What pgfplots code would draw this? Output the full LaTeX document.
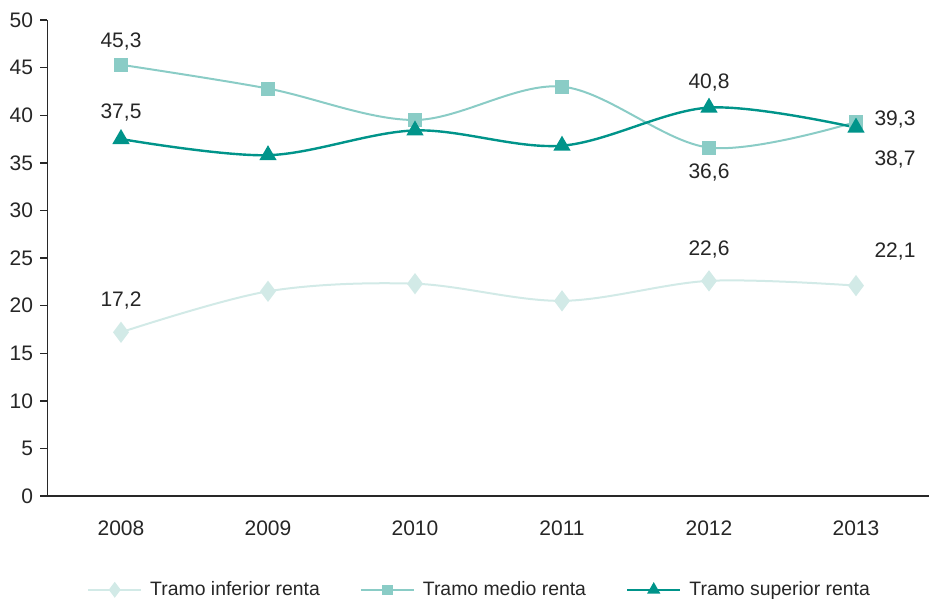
\documentclass[border=0pt]{standalone}
\usepackage{fontspec}
\setmainfont{Liberation Sans}
\usepackage{pgfplots}
\pgfplotsset{compat=1.18}
\definecolor{cinf}{RGB}{210,234,231}
\definecolor{cmed}{RGB}{138,204,198}
\definecolor{csup}{RGB}{0,148,138}
\definecolor{axcol}{RGB}{40,40,40}
\begin{document}
\fontsize{10.5}{12.6}\selectfont
\begin{tikzpicture}
\useasboundingbox (0,0) rectangle (465pt,301pt);
\begin{axis}[
  at={(23.75pt,53pt)}, anchor=south west,
  width=441pt, height=238pt, scale only axis,
  xmin=-0.5, xmax=5.5, ymin=0, ymax=50,
  axis x line=bottom, axis y line=left,
  axis line style={-, axcol, line width=0.7pt},
  xtick={0,...,5},
  xticklabels={2008,2009,2010,2011,2012,2013},
  minor xtick={0.5,1.5,2.5,3.5,4.5},
  ytick={0,5,...,50},
  tick align=outside,
  major tick length=3.5pt,
  minor tick length=3pt,
  xtick style={draw=none},
  minor tick style={axcol, line width=0.7pt, draw=axcol},
  ytick style={axcol, line width=0.7pt},
  tick label style={font=\fontsize{10.5}{12.6}\selectfont, text=black!85},
  xticklabel style={yshift=-5pt},
  /pgf/number format/assume math mode=true,
  legend style={at={(0.491,-0.197)}, anchor=center, draw=none, fill=none,
    font=\fontsize{9.7}{11.6}\selectfont, text=black!85,
    /tikz/every even column/.append style={column sep=18pt}},
  legend columns=3,
  legend cell align=left,
  legend image code/.code={
    \draw[mark repeat=2,mark phase=2, every mark/.append style={scale=0.7}] plot coordinates {(0pt,0pt) (13.25pt,0pt) (26.5pt,0pt)};
    \path (28.5pt,0pt);
  },
  clip=false,
]
\addplot[cinf, line width=1pt, smooth, tension=0.55, mark=diamond*, mark size=4.5pt, mark options={fill=cinf, draw=cinf}]
  coordinates {(0,17.2) (1,21.5) (2,22.3) (3,20.5) (4,22.6) (5,22.1)};
\addlegendentry{Tramo inferior renta}
\addplot[cmed, line width=1pt, smooth, tension=0.55, mark=square*, mark size=3pt, mark options={fill=cmed, draw=cmed}]
  coordinates {(0,45.3) (1,42.8) (2,39.5) (3,43.0) (4,36.6) (5,39.3)};
\addlegendentry{Tramo medio renta}
\addplot[csup, line width=1.2pt, smooth, tension=0.55, mark=triangle*, mark size=3.8pt, mark options={fill=csup, draw=csup}]
  coordinates {(0,37.5) (1,35.8) (2,38.4) (3,36.8) (4,40.8) (5,38.7)};
\addlegendentry{Tramo superior renta}
\node[text=black!85] at (axis cs:0,45.3) [yshift=11.5pt] {45,3};
\node[text=black!85] at (axis cs:0,37.5) [yshift=13pt] {37,5};
\node[text=black!85] at (axis cs:0,17.2) [yshift=16pt] {17,2};
\node[text=black!85] at (axis cs:4,40.8) [yshift=12.5pt] {40,8};
\node[text=black!85] at (axis cs:4,36.6) [yshift=-12.5pt] {36,6};
\node[text=black!85] at (axis cs:4,22.6) [yshift=15.5pt] {22,6};
\node[text=black!85] at (axis cs:5,39.3) [xshift=19.5pt, yshift=1pt] {39,3};
\node[text=black!85] at (axis cs:5,38.7) [xshift=19.5pt, yshift=-16pt] {38,7};
\node[text=black!85] at (axis cs:5,22.1) [xshift=19.5pt, yshift=17pt] {22,1};
\end{axis}
\end{tikzpicture}
\end{document}
